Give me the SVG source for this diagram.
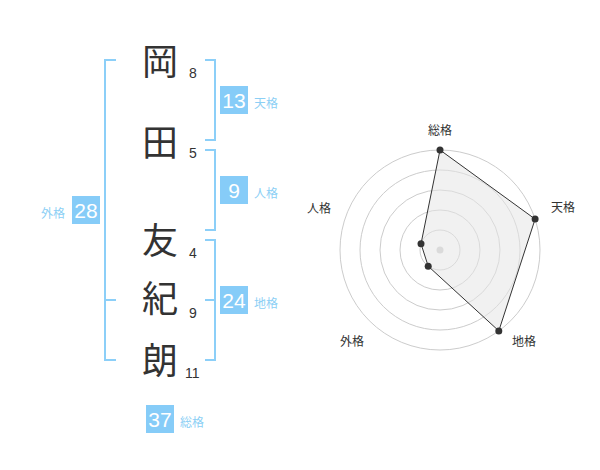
<svg xmlns="http://www.w3.org/2000/svg" width="600" height="470" viewBox="0 0 600 470">
<style>
.kanji{font-family:"Noto Sans CJK JP","Noto Sans CJK SC",sans-serif;font-size:36px;fill:#333;text-anchor:middle}
.stroke{font-family:"Liberation Sans",Arial,sans-serif;font-size:14px;fill:#333}
.br{fill:none;stroke:#8ccff8;stroke-width:2}
.box{fill:#86ccf8}
.num{font-family:"Liberation Sans",Arial,sans-serif;font-size:21px;fill:#fff;text-anchor:middle}
.lbl{font-family:"Noto Sans CJK JP","Noto Sans CJK SC",sans-serif;font-size:12px;fill:#8ccff5}
.grid{fill:none;stroke:#cccccc;stroke-width:1}
.axl{font-family:"Noto Sans CJK JP","Noto Sans CJK SC",sans-serif;font-size:12px;fill:#333;text-anchor:middle}
.pt{fill:#333}
</style>
<rect width="600" height="470" fill="#fff"/>
<g id="name">
<text class="kanji" x="160" y="75">岡</text>
<text class="kanji" x="160" y="156">田</text>
<text class="kanji" x="160" y="254">友</text>
<text class="kanji" x="160" y="312">紀</text>
<text class="kanji" x="160" y="374">朗</text>
<text class="stroke" x="189" y="78">8</text>
<text class="stroke" x="189" y="158">5</text>
<text class="stroke" x="189" y="258">4</text>
<text class="stroke" x="189" y="318">9</text>
<text class="stroke" x="185" y="378">11</text>
</g>
<g id="connectors">
<path class="br" d="M205,60H215V140H205"/>
<path class="br" d="M205,150H215V230H205"/>
<path class="br" d="M205,240H215V360H205M205,300H215"/>
<path class="br" d="M116,60H105V360H116M105,300H116"/>
</g>
<g id="tenkaku">
<rect class="box" x="220" y="86" width="28" height="28"/>
<text class="num" x="234" y="107.5">13</text>
<text class="lbl" x="254" y="108">天格</text>
</g>
<g id="jinkaku">
<rect class="box" x="220" y="176" width="28" height="28"/>
<text class="num" x="234" y="197.5">9</text>
<text class="lbl" x="254" y="198">人格</text>
</g>
<g id="chikaku">
<rect class="box" x="220" y="286" width="28" height="28"/>
<text class="num" x="234" y="307.5">24</text>
<text class="lbl" x="254" y="308">地格</text>
</g>
<g id="gaikaku">
<rect class="box" x="72" y="196" width="28" height="28"/>
<text class="num" x="86" y="217.5">28</text>
<text class="lbl" x="41" y="218">外格</text>
</g>
<g id="soukaku">
<rect class="box" x="146" y="405" width="28" height="28"/>
<text class="num" x="160" y="426.5">37</text>
<text class="lbl" x="180" y="427">総格</text>
</g>
<g id="radar">
<circle class="grid" cx="440" cy="250" r="20"/>
<circle class="grid" cx="440" cy="250" r="40"/>
<circle class="grid" cx="440" cy="250" r="60"/>
<circle class="grid" cx="440" cy="250" r="80"/>
<circle class="grid" cx="440" cy="250" r="100"/>
<circle cx="440" cy="250" r="3.5" fill="#cccccc"/>
<polygon points="440,150 535.1,219.1 498.8,330.9 428.2,266.2 421,243.8" fill="#e6e6e6" fill-opacity="0.55" stroke="#333" stroke-width="1"/>
<circle class="pt" cx="440" cy="150" r="3.5"/>
<circle class="pt" cx="535.1" cy="219.1" r="3.5"/>
<circle class="pt" cx="498.8" cy="330.9" r="3.5"/>
<circle class="pt" cx="428.2" cy="266.2" r="3.5"/>
<circle class="pt" cx="421" cy="243.8" r="3.5"/>
<text class="axl" x="440" y="135">総格</text>
<text class="axl" x="563" y="212">天格</text>
<text class="axl" x="524" y="346">地格</text>
<text class="axl" x="352" y="346">外格</text>
<text class="axl" x="319" y="213">人格</text>
</g>
</svg>
